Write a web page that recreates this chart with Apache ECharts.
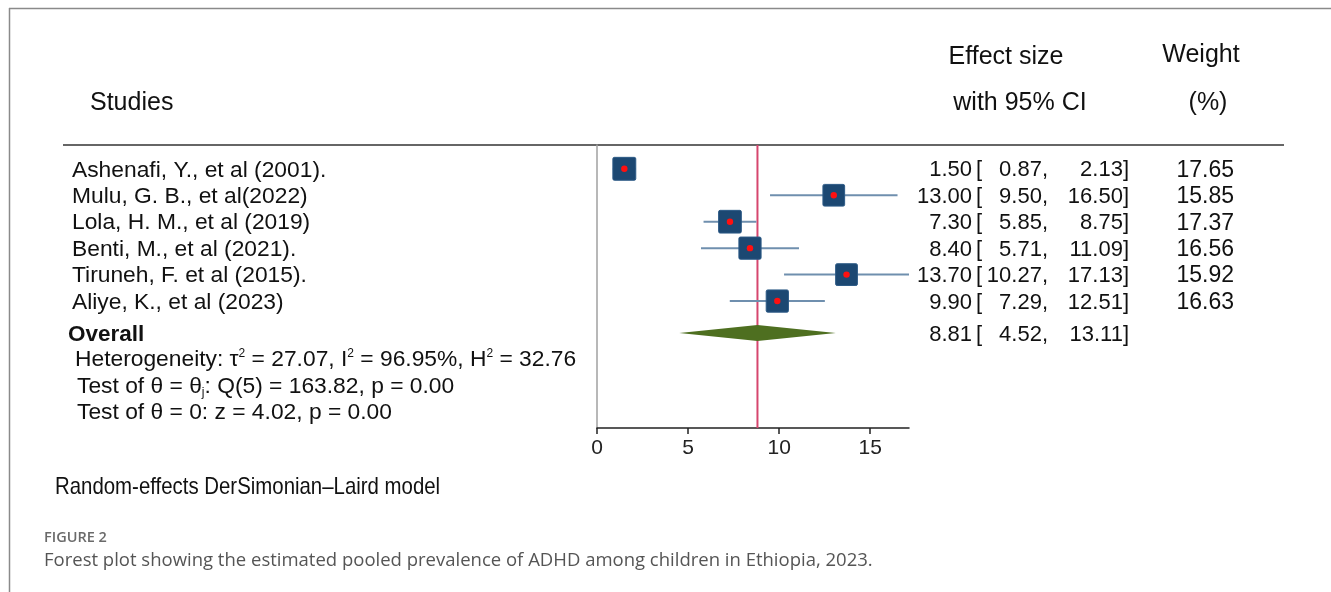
<!DOCTYPE html>
<html>
<head>
<meta charset="utf-8">
<script src="https://cdn.jsdelivr.net/npm/echarts@6/dist/echarts.min.js"></script>
<style>
  html, body { margin: 0; padding: 0; background: #fff; }
  #chart { width: 1331px; height: 592px; }
</style>
</head>
<body>
<div id="chart"></div>
<script>
// Study-level prevalence estimates (%) with 95% confidence intervals
const studies = [
  'Ashenafi, Y., et al (2001).',
  'Mulu, G. B., et al(2022)',
  'Lola, H. M., et al (2019)',
  'Benti, M., et al (2021).',
  'Tiruneh, F. et al (2015).',
  'Aliye, K., et al (2023)'
];
const effect = [1.50, 13.00, 7.30, 8.40, 13.70, 9.90];
const lower  = [0.87, 9.50, 5.85, 5.71, 10.27, 7.29];
const upper  = [2.13, 16.50, 8.75, 11.09, 17.13, 12.51];
const weight = [17.65, 15.85, 17.37, 16.56, 15.92, 16.63];

// Pooled random-effects estimate
const overallEst = 8.81;
const overallLo = 4.52;
const overallHi = 13.11;

// Axis ticks
const xTicks = [0, 5, 10, 15];

const FONT = '"Liberation Sans", Arial, sans-serif';
const xMin = 0, xMax = 17.13;
const yMin = 0.1, yMax = 10.8;
const overallRow = 7.21;
const TY = 1.5; // baseline nudge for row text

const studyData = studies.map((s, i) => [i, effect[i], lower[i], upper[i], weight[i], i + 1]);

const chart = echarts.init(document.getElementById('chart'), null, { renderer: 'canvas' });

function rowText(x, y, text, align, size) {
  return {
    type: 'text',
    style: {
      x: x, y: y + TY, text: text,
      font: (size || 22) + 'px ' + FONT,
      fill: '#111',
      textAlign: align,
      textVerticalAlign: 'middle'
    }
  };
}

function ciTexts(y, est, lo, hi) {
  return [
    rowText(972, y, est.toFixed(2), 'right'),
    rowText(976, y, '[', 'left'),
    rowText(1048, y, lo.toFixed(2) + ',', 'right'),
    rowText(1129, y, hi.toFixed(2) + ']', 'right')
  ];
}

const option = {
  animation: false,
  backgroundColor: '#fff',
  grid: { left: 597, right: 1331 - 909, top: 145, bottom: 592 - 428, containLabel: false },
  xAxis: {
    type: 'value', min: xMin, max: xMax, interval: 5,
    axisLine: { show: true, lineStyle: { color: '#222', width: 1.5 } },
    axisTick: { show: true, length: 6, customValues: xTicks, lineStyle: { color: '#222', width: 1.5 } },
    axisLabel: { customValues: xTicks, fontSize: 21, fontFamily: FONT, color: '#222', margin: 10 },
    splitLine: { show: false }
  },
  yAxis: {
    type: 'value', inverse: true, min: yMin, max: yMax,
    axisLine: { show: true, onZero: false, lineStyle: { color: '#a0a0a0', width: 1.5 } },
    axisTick: { show: false }, axisLabel: { show: false }, splitLine: { show: false }
  },
  graphic: [
    // frame
    { type: 'line', shape: { x1: 9, y1: 8.5, x2: 1331, y2: 8.5 }, style: { stroke: '#8a8a8a', lineWidth: 1.5 } },
    { type: 'line', shape: { x1: 9.5, y1: 8, x2: 9.5, y2: 592 }, style: { stroke: '#8a8a8a', lineWidth: 1.5 } },
    // header separator
    { type: 'line', shape: { x1: 63, y1: 145, x2: 1284, y2: 145 }, style: { stroke: '#666', lineWidth: 2 } },
    // column headers
    { type: 'text', style: { x: 90, y: 103, text: 'Studies', font: '25px ' + FONT, fill: '#111', textVerticalAlign: 'middle' } },
    { type: 'text', style: { x: 1006, y: 57, text: 'Effect size', font: '25px ' + FONT, fill: '#111', textAlign: 'center', textVerticalAlign: 'middle' } },
    { type: 'text', style: { x: 1020, y: 103, text: 'with 95% CI', font: '25px ' + FONT, fill: '#111', textAlign: 'center', textVerticalAlign: 'middle' } },
    { type: 'text', style: { x: 1201, y: 55, text: 'Weight', font: '25px ' + FONT, fill: '#111', textAlign: 'center', textVerticalAlign: 'middle' } },
    { type: 'text', style: { x: 1208, y: 103, text: '(%)', font: '25px ' + FONT, fill: '#111', textAlign: 'center', textVerticalAlign: 'middle' } },
    // heterogeneity statistics
    { type: 'text', style: {
        x: 75, y: 360, textVerticalAlign: 'middle',
        text: 'Heterogeneity: τ{sup|2} = 27.07, I{sup|2} = 96.95%, H{sup|2} = 32.76',
        font: '22.8px ' + FONT, fill: '#111',
        rich: { sup: { fontSize: 12, fontFamily: FONT, verticalAlign: 'top', padding: [0, 0, 12, 0] } }
    } },
    { type: 'text', style: {
        x: 77, y: 387, textVerticalAlign: 'middle',
        text: 'Test of θ = θ{sub|j}: Q(5) = 163.82, p = 0.00',
        font: '22.8px ' + FONT, fill: '#111',
        rich: { sub: { fontSize: 12, fontFamily: FONT, verticalAlign: 'bottom', padding: [8, 0, 0, 0] } }
    } },
    { type: 'text', style: { x: 77, y: 413, text: 'Test of θ = 0: z = 4.02, p = 0.00', font: '22.8px ' + FONT, fill: '#111', textVerticalAlign: 'middle' } },
    // model note (condensed)
    { type: 'text', x: 55, y: 487, scaleX: 0.85, style: { x: 0, y: 0, text: 'Random-effects DerSimonian–Laird model', font: '24px ' + FONT, fill: '#111', textVerticalAlign: 'middle' } },
    // caption
    { type: 'text', style: { x: 44, y: 538, text: 'FIGURE 2', font: '600 14.5px "Open Sans", sans-serif', fill: '#6a6a6a', textVerticalAlign: 'middle' } },
    { type: 'text', style: { x: 44, y: 561, text: 'Forest plot showing the estimated pooled prevalence of ADHD among children in Ethiopia, 2023.', font: '18.5px "Open Sans", sans-serif', fill: '#555', textVerticalAlign: 'middle' } }
  ],
  series: [
    {
      // reference line at the pooled estimate
      type: 'line', silent: true, symbol: 'none', z: 1,
      data: [[overallEst, yMin], [overallEst, yMax]],
      lineStyle: { color: '#d6466e', width: 2 }
    },
    {
      type: 'custom', z: 3, clip: false,
      data: studyData,
      renderItem: function (params, api) {
        const idx = api.value(0);
        const row = api.value(5);
        const pE = api.coord([api.value(1), row]);
        const pL = api.coord([api.value(2), row]);
        const pU = api.coord([api.value(3), row]);
        const side = Math.sqrt(api.value(4)) * 5.45;
        const y = pE[1];
        const children = [
          { type: 'line', shape: { x1: pL[0], y1: y, x2: pU[0], y2: y }, style: { stroke: '#6f8fae', lineWidth: 2 } },
          { type: 'rect', shape: { x: pE[0] - side / 2, y: y - side / 2, width: side, height: side, r: 1.5 },
            style: { fill: '#1c4872', stroke: '#2c5a86', lineWidth: 1 } },
          { type: 'circle', shape: { cx: pE[0], cy: y, r: 3.2 }, style: { fill: '#ff1010' } },
          rowText(72, y, studies[idx], 'left', 22.8)
        ].concat(ciTexts(y, api.value(1), api.value(2), api.value(3)));
        children.push(rowText(1234, y, api.value(4).toFixed(2), 'right', 23));
        return { type: 'group', children: children };
      }
    },
    {
      type: 'custom', z: 3, clip: false,
      data: [[overallEst, overallLo, overallHi, overallRow]],
      renderItem: function (params, api) {
        const row = api.value(3);
        const pE = api.coord([api.value(0), row]);
        const pL = api.coord([api.value(1), row]);
        const pU = api.coord([api.value(2), row]);
        const y = pE[1];
        const h = 8;
        return {
          type: 'group',
          children: [
            { type: 'polygon', shape: { points: [[pL[0], y], [pE[0], y - h], [pU[0], y], [pE[0], y + h]] },
              style: { fill: '#4e6f20' } },
            { type: 'text', style: { x: 68, y: y + TY, text: 'Overall', font: 'bold 22.5px ' + FONT, fill: '#111', textVerticalAlign: 'middle' } }
          ].concat(ciTexts(y, api.value(0), api.value(1), api.value(2)))
        };
      }
    }
  ]
};

chart.setOption(option);
</script>
</body>
</html>
